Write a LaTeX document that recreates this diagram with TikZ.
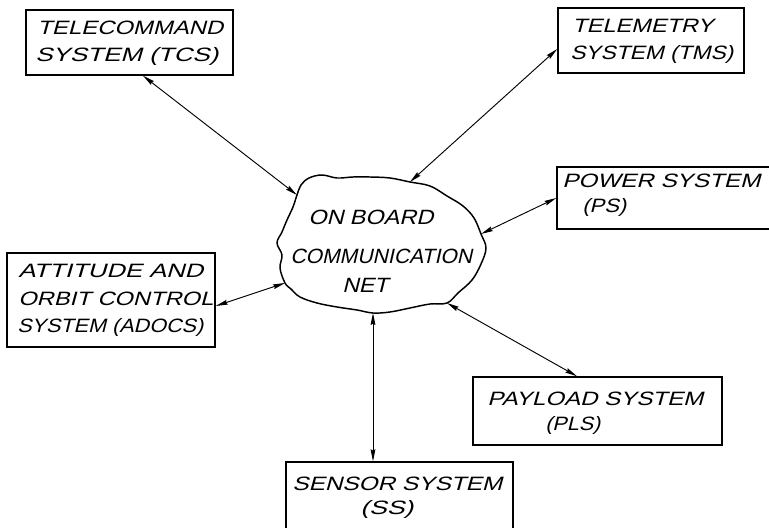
\documentclass[tikz,border=0pt]{standalone}
\usepackage{fontspec}
\usepackage{graphicx}
\usetikzlibrary{arrows.meta,calc}
\newfontfamily\handfont[FakeSlant=0.22]{Liberation Sans}
% one drawing unit
\newdimen\pxu \pxu=0.75pt
% a line of lettering stretched to a given width (in drawing units)
\newcommand{\handtext}[2]{\resizebox{#1\pxu}{\height}{\handfont #2}}
\begin{document}
\begin{tikzpicture}[x=0.75pt,y=-0.75pt,
  box/.style={draw, line width=1.1pt, inner sep=0pt},
  lbl/.style={anchor=base west, inner sep=0pt, font=\fontsize{14.5}{17}\selectfont},
  cloudlbl/.style={anchor=base west, inner sep=0pt, font=\fontsize{15.5}{18}\selectfont},
  tip/.tip={Stealth[length=9pt,width=3.6pt,inset=1pt]},
  link/.style={line width=0.7pt, tip-tip}]
\useasboundingbox (0,0) rectangle (769,528);

% subsystem boxes
\node[box, minimum width=207\pxu, minimum height=65\pxu] (tcs)   at (129.5,42.5) {};
\node[box, minimum width=186\pxu, minimum height=65\pxu] (tms)   at (651,40.5) {};
\node[box, minimum width=218\pxu, minimum height=62\pxu] (ps)    at (666,198) {};
\node[box, minimum width=208\pxu, minimum height=94\pxu] (adocs) at (111,300) {};
\node[box, minimum width=249\pxu, minimum height=68\pxu] (pls)   at (597.5,411) {};
\node[box, minimum width=227\pxu, minimum height=78\pxu] (ss)    at (399.5,501) {};

% lettering
\node[lbl] (tcsA) at (37,35)  {\handtext{186}{TELECOMMAND}};
\node[lbl] (tcsB) at (35,62)  {\handtext{183}{SYSTEM (TCS)}};
\node[lbl] (tmsA) at (572,33) {\handtext{141}{TELEMETRY}};
\node[lbl] (tmsB) at (570,60) {\handtext{163}{SYSTEM (TMS)}};
\node[lbl] (psA)  at (562,187) {\handtext{198}{POWER SYSTEM}};
\node[lbl] (psB)  at (582,213) {\handtext{44}{(PS)}};
\node[lbl] (adA)  at (18,278) {\handtext{185}{ATTITUDE AND}};
\node[lbl] (adB)  at (18,305) {\handtext{195}{ORBIT CONTROL}};
\node[lbl] (adC)  at (17,332) {\handtext{186}{SYSTEM (ADOCS)}};
\node[lbl] (plA)  at (487,405) {\handtext{216}{PAYLOAD SYSTEM}};
\node[lbl] (plB)  at (545,430) {\handtext{55}{(PLS)}};
\node[lbl] (ssA)  at (292,490) {\handtext{210}{SENSOR SYSTEM}};
\node[lbl] (ssB)  at (360,514) {\handtext{53}{(SS)}};

% the communication net
\coordinate (cT) at (297,195);
\coordinate (cM) at (410,182);
\coordinate (cP) at (481,234);
\coordinate (cL) at (447,303);
\coordinate (cS) at (373,313);
\coordinate (cA) at (285,283);
\draw[line width=1.1pt] plot[smooth cycle, tension=0.6] coordinates {
  (cT) (301,185) (309,178) (322,175) (337,178) (353,177) (370,177) (390,178)
  (cM) (430,186) (447,196) (463,206) (474,218) (cP) (486,248) (481,264)
  (472,280) (458,293) (cL) (430,304) (410,308) (390,312) (cS) (357,310)
  (337,307) (317,303) (300,297) (291,289) (cA) (280,268) (282,255)
  (277,243) (282,232) (287,220) (293,207)};
\node[cloudlbl] (netA) at (308,225) {\handtext{125}{ON\kern4pt BOARD}};
\node[cloudlbl] (netB) at (290,263) {\handtext{182}{COMMUNICATION}};
\node[cloudlbl] (netC) at (342,292) {\handtext{46}{NET}};

% two-way links
\draw[link] ($(tcs.south)+(13.5,0)$) -- (cT);
\draw[link] ($(tms.west)+(0,8.5)$) -- (cM);
\draw[link] (ps.west) -- (cP);
\draw[link] ($(adocs.east)+(0,6)$) -- (cA);
\draw[link] ($(ss.north)+(-26.5,0)$) -- (cS);
\draw[link] ($(pls.north)+(-20.5,0)$) -- (cL);
\end{tikzpicture}
\end{document}
